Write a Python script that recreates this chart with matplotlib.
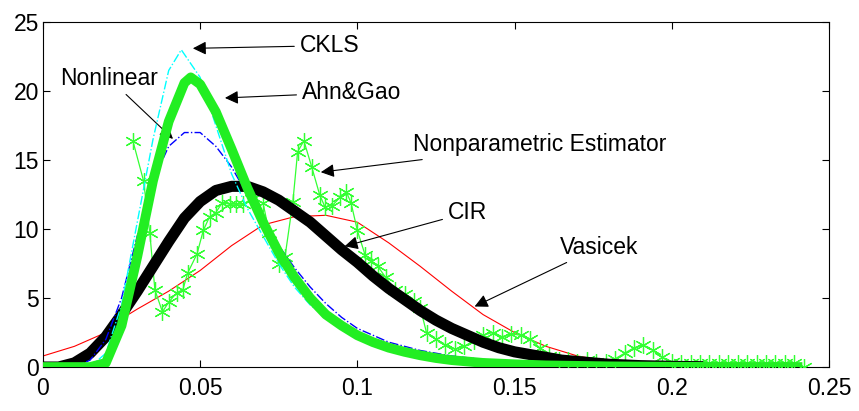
import numpy as np
import matplotlib.pyplot as plt

plt.rcParams['font.family'] = ['Liberation Sans', 'DejaVu Sans']

# CIR (black)
cir_x = [0, 0.005, 0.01, 0.015, 0.02, 0.025, 0.03, 0.035, 0.04, 0.045, 0.05, 0.055, 0.06, 0.065,
         0.07, 0.075, 0.08, 0.085, 0.09, 0.095, 0.1, 0.105, 0.11, 0.115, 0.12, 0.125, 0.13,
         0.135, 0.14, 0.145, 0.15, 0.155, 0.16, 0.165, 0.17, 0.175, 0.18, 0.185, 0.19, 0.2, 0.21]
cir_y = [0, 0, 0.3, 1.0, 2.2, 3.8, 5.5, 7.3, 9.1, 10.8, 12.0, 12.8, 13.1, 13.1,
         12.7, 12.1, 11.3, 10.5, 9.5, 8.5, 7.6, 6.6, 5.7, 4.9, 4.1, 3.4, 2.8,
         2.3, 1.8, 1.4, 1.1, 0.9, 0.7, 0.5, 0.4, 0.3, 0.2, 0.15, 0.1, 0.05, 0.02]

# Ahn&Gao (green)
ag_x = [0, 0.005, 0.01, 0.015, 0.02, 0.025, 0.03, 0.035, 0.04, 0.045, 0.047, 0.05, 0.055, 0.06,
        0.065, 0.07, 0.075, 0.08, 0.085, 0.09, 0.095, 0.1, 0.105, 0.11, 0.115, 0.12, 0.125,
        0.13, 0.14, 0.15, 0.16, 0.18, 0.2, 0.22, 0.24]
ag_y = [0, 0, 0, 0, 0.3, 3.0, 8.0, 13.5, 17.8, 20.6, 21.0, 20.5, 18.5, 15.8,
        13.0, 10.5, 8.3, 6.5, 5.0, 3.8, 3.0, 2.3, 1.8, 1.4, 1.1, 0.85, 0.65,
        0.5, 0.3, 0.2, 0.12, 0.05, 0.02, 0, 0]

# CKLS (cyan dash-dot)
ckls_x = [0, 0.01, 0.015, 0.02, 0.025, 0.03, 0.035, 0.04, 0.044, 0.05, 0.055, 0.06, 0.065, 0.07,
          0.075, 0.08, 0.085, 0.09, 0.095, 0.1, 0.11, 0.12, 0.13, 0.14, 0.15, 0.16, 0.18, 0.2, 0.24]
ckls_y = [0, 0, 0, 1.0, 4.5, 10.5, 16.5, 21.5, 23.0, 21.0, 17.5, 14.0, 11.5, 9.5,
          7.5, 5.8, 4.5, 3.6, 2.9, 2.3, 1.5, 0.9, 0.6, 0.35, 0.2, 0.12, 0.05, 0.02, 0]

# Nonlinear (blue dash-dot)
nl_x = [0, 0.01, 0.015, 0.02, 0.025, 0.03, 0.035, 0.04, 0.045, 0.05, 0.055, 0.06, 0.065, 0.07,
        0.075, 0.08, 0.085, 0.09, 0.095, 0.1, 0.105, 0.11, 0.12, 0.13, 0.14, 0.15, 0.17, 0.2, 0.24]
nl_y = [0, 0, 0.5, 2.0, 5.0, 9.5, 13.5, 16.0, 17.0, 17.0, 16.0, 14.5, 12.5, 10.5,
        8.8, 7.2, 5.8, 4.6, 3.6, 2.8, 2.3, 1.8, 1.2, 0.8, 0.55, 0.4, 0.2, 0.05, 0]

# Vasicek (red)
vas_x = [0, 0.01, 0.02, 0.025, 0.03, 0.04, 0.05, 0.06, 0.07, 0.08, 0.09, 0.1, 0.11,
         0.12, 0.13, 0.14, 0.15, 0.16, 0.17, 0.18, 0.19, 0.2]
vas_y = [0.8, 1.5, 2.5, 3.5, 4.2, 5.5, 7.0, 8.8, 10.3, 10.9, 11.0, 10.5, 9.0,
         7.3, 5.5, 3.8, 2.5, 1.5, 0.8, 0.4, 0.15, 0.05]

# Nonparametric estimator (green stars)
np_x = [0.0286, 0.032, 0.034, 0.0356, 0.038, 0.040, 0.0426, 0.0445, 0.046, 0.049, 0.051, 0.053,
        0.055, 0.057, 0.0595, 0.0615, 0.0635, 0.0665, 0.070, 0.072, 0.075, 0.077, 0.0795, 0.081,
        0.083, 0.0855, 0.088, 0.0897, 0.092, 0.0945, 0.0965, 0.098, 0.100, 0.1025, 0.1045,
        0.1065, 0.109, 0.112, 0.115, 0.118, 0.120, 0.122, 0.125, 0.128, 0.131, 0.134, 0.137,
        0.140, 0.143, 0.146, 0.149, 0.152, 0.155, 0.158, 0.161, 0.164, 0.167, 0.170, 0.173,
        0.176, 0.179, 0.182, 0.185, 0.188, 0.191, 0.194, 0.197, 0.200, 0.203, 0.206, 0.209,
        0.212, 0.215, 0.218, 0.221, 0.224, 0.227, 0.230, 0.233, 0.236, 0.239, 0.242]
np_y = [16.4, 13.5, 9.7, 5.6, 4.0, 4.7, 5.4, 5.6, 6.8, 8.2, 9.9, 10.9,
        11.2, 11.9, 11.8, 11.8, 11.8, 12.2, 11.9, 9.7, 7.5, 8.0, 12.0, 15.6,
        16.4, 14.5, 12.5, 11.6, 11.7, 12.3, 12.7, 11.9, 9.9, 8.1, 7.7,
        7.3, 6.5, 5.6, 5.3, 4.8, 4.3, 2.5, 2.0, 1.6, 1.3, 1.5, 1.9,
        2.3, 2.5, 2.2, 2.4, 2.3, 2.0, 1.4, 0.8, 0.5, 0.5, 0.4, 0.5,
        0.4, 0.4, 0.6, 1.0, 1.4, 1.6, 1.2, 0.7, 0.4, 0.3, 0.3, 0.3,
        0.3, 0.3, 0.3, 0.3, 0.3, 0.3, 0.3, 0.3, 0.3, 0.3, 0.0]

fig = plt.figure(figsize=(8.59, 4.11), dpi=100)
ax = fig.add_axes([0.05, 0.107, 0.915, 0.839])

ax.plot(vas_x, vas_y, color='red', lw=0.8, zorder=2)
ax.plot(np_x, np_y, color='#33ff33', lw=0.9, marker=(6, 2, 0), ms=12, mew=0.9, zorder=3)
ax.plot(cir_x, cir_y, color='black', lw=8, solid_capstyle='butt', zorder=4)
ax.plot(nl_x, nl_y, color='blue', lw=1, ls='-.', zorder=5)
ax.plot(ckls_x, ckls_y, color='cyan', lw=1, ls='-.', zorder=5)
ax.plot(ag_x, ag_y, color='#22ee22', lw=7, zorder=6)

arrow = dict(arrowstyle='-|>', color='black', lw=0.8, mutation_scale=20)
fs = 16.5
ax.annotate('CKLS', xy=(0.0468, 23.1), xytext=(0.0817, 23.3), arrowprops=arrow,
            fontsize=fs, va='center')
ax.annotate('Nonlinear', xy=(0.042, 16.4), xytext=(0.021, 20.1), arrowprops=arrow,
            fontsize=fs, va='bottom', ha='center')
ax.annotate('Ahn&Gao', xy=(0.057, 19.5), xytext=(0.0824, 19.9), arrowprops=arrow,
            fontsize=fs, va='center')
ax.annotate('Nonparametric Estimator', xy=(0.0875, 14.1), xytext=(0.1177, 16.1),
            arrowprops=arrow, fontsize=fs, va='center')
ax.annotate('CIR', xy=(0.0951, 8.7), xytext=(0.1288, 11.2), arrowprops=arrow,
            fontsize=fs, va='center')
ax.annotate('Vasicek', xy=(0.1365, 4.3), xytext=(0.1644, 8.7), arrowprops=arrow,
            fontsize=fs, va='center')

ax.set_xlim(0, 0.25)
ax.set_ylim(0, 25)
ax.set_xticks([0, 0.05, 0.1, 0.15, 0.2, 0.25])
ax.set_xticklabels(['0', '0.05', '0.1', '0.15', '0.2', '0.25'])
ax.set_yticks([0, 5, 10, 15, 20, 25])
ax.tick_params(direction='in', top=True, right=True, labelsize=16.5, length=5)
ax.tick_params(axis='x', pad=7)
ax.tick_params(axis='y', pad=3)

fig.savefig('out.png', dpi=100)
